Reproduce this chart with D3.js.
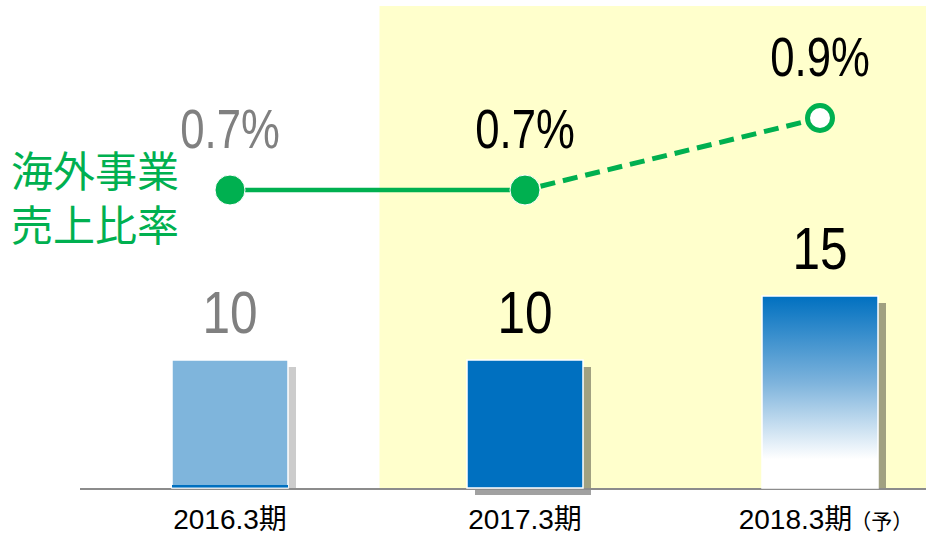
<!DOCTYPE html>
<html>
<head>
<meta charset="utf-8">
<script src="https://cdn.jsdelivr.net/npm/d3@7"></script>
<style>
  body { margin: 0; background: #fff; }
  svg { display: block; }
</style>
</head>
<body>
<svg id="chart" width="926" height="537"></svg>
<script>
// data
const categories = ["2016.3期", "2017.3期", "2018.3期"];
const sales = [10, 10, 15];
const ratio = [0.7, 0.7, 0.9];
const forecast = [false, false, true];
const ratioTitle = ["海外事業", "売上比率"];

const width = 926, height = 537;
const baseY = 488;
const svg = d3.select("#chart");

const x = d3.scalePoint().domain(categories).range([230, 820]);
const yBar = d3.scaleLinear().domain([0, 15]).range([baseY, 296]);
const yRatio = d3.scaleLinear().domain([0.7, 0.9]).range([190, 118]);
const barW = 116;
const green = "#00b050";
const latin = "'Liberation Sans', Arial, sans-serif";

const defs = svg.append("defs");
const grad = defs.append("linearGradient").attr("id", "fcGrad")
  .attr("x1", 0).attr("y1", 0).attr("x2", 0).attr("y2", 1);
grad.append("stop").attr("offset", "0%").attr("stop-color", "#0070c0");
grad.append("stop").attr("offset", "45%").attr("stop-color", "#7db3dc");
grad.append("stop").attr("offset", "85%").attr("stop-color", "#ffffff");
grad.append("stop").attr("offset", "100%").attr("stop-color", "#ffffff");

// yellow band behind the actual + forecast years
const bandX = (x(categories[0]) + x(categories[1])) / 2 + 2;
svg.append("rect")
  .attr("x", bandX).attr("y", 6)
  .attr("width", width - bandX).attr("height", baseY - 6)
  .attr("fill", "#ffffcc");

// bar shadows (only the middle one drops below the axis)
svg.selectAll(".shadow").data(sales).enter().append("rect")
  .attr("class", "shadow")
  .attr("x", (d, i) => x(categories[i]) - barW / 2 + 8)
  .attr("y", d => yBar(d) + 7)
  .attr("width", barW)
  .attr("height", (d, i) => baseY - yBar(d) + (i === 1 ? 0 : -7))
  .attr("fill", "#000").attr("opacity", (d, i) => i === 0 ? 0.2 : 0.37);

// axis line
svg.append("line")
  .attr("x1", 80).attr("x2", width)
  .attr("y1", baseY + 1).attr("y2", baseY + 1)
  .attr("stroke", "#8c8c8c").attr("stroke-width", 2);

// bars
const barFill = ["#7fb5dc", "#0070c0", "url(#fcGrad)"];
svg.selectAll(".bar").data(sales).enter().append("rect")
  .attr("class", "bar")
  .attr("x", (d, i) => x(categories[i]) - barW / 2)
  .attr("y", d => yBar(d))
  .attr("width", barW)
  .attr("height", d => baseY - yBar(d))
  .attr("fill", (d, i) => barFill[i])
  .attr("stroke", "#fff").attr("stroke-width", 1.5);

// thin dark line at the bottom of the first bar
svg.append("rect")
  .attr("x", x(categories[0]) - barW / 2).attr("y", baseY - 3)
  .attr("width", barW).attr("height", 2.5)
  .attr("fill", "#0070c0");

// bar value labels (condensed)
svg.selectAll(".barLabel").data(sales).enter().append("text")
  .attr("class", "barLabel")
  .attr("transform", (d, i) => `translate(${x(categories[i])},${yBar(d) - 27}) scale(0.84,1)`)
  .attr("text-anchor", "middle")
  .attr("font-family", latin).attr("font-size", 59)
  .attr("fill", (d, i) => i === 0 ? "#808080" : "#000")
  .text(d => d);

// ratio line
const pts = ratio.map((d, i) => [x(categories[i]), yRatio(d)]);
const line = d3.line();
svg.append("path").attr("d", line(pts.slice(0, 2)))
  .attr("fill", "none").attr("stroke", green).attr("stroke-width", 4.5);
svg.append("path").attr("d", line(pts.slice(1)))
  .attr("fill", "none").attr("stroke", green).attr("stroke-width", 5)
  .attr("stroke-dasharray", "15,8").attr("stroke-dashoffset", -16);

svg.selectAll(".pt").data(ratio).enter().append("circle")
  .attr("class", "pt")
  .attr("cx", (d, i) => x(categories[i]))
  .attr("cy", d => yRatio(d))
  .attr("r", (d, i) => forecast[i] ? 12.5 : 15)
  .attr("fill", (d, i) => forecast[i] ? "#fff" : green)
  .attr("stroke", (d, i) => forecast[i] ? green : "#fff")
  .attr("stroke-width", (d, i) => forecast[i] ? 5 : 1);

svg.selectAll(".ratioLabel").data(ratio).enter().append("text")
  .attr("class", "ratioLabel")
  .attr("transform", (d, i) => `translate(${x(categories[i])},${yRatio(d) - 42}) scale(0.78,1)`)
  .attr("text-anchor", "middle")
  .attr("font-family", latin).attr("font-size", 56)
  .attr("fill", (d, i) => i === 0 ? "#808080" : "#000")
  .text(d => d3.format(".1f")(d) + "%");

// left title
svg.selectAll(".title").data(ratioTitle).enter().append("text")
  .attr("class", "title")
  .attr("x", 11)
  .attr("y", (d, i) => 187 + i * 54)
  .attr("font-family", "'Noto Sans CJK JP', sans-serif")
  .attr("font-size", 42)
  .attr("fill", green)
  .text(d => d);

// category labels
const cat = svg.selectAll(".cat").data(categories).enter().append("text")
  .attr("class", "cat")
  .attr("x", (d, i) => x(d) + (forecast[i] ? 6 : 0))
  .attr("y", 529)
  .attr("text-anchor", "middle")
  .attr("font-family", "'Liberation Sans', 'Noto Sans CJK JP', sans-serif")
  .attr("font-size", 28)
  .attr("fill", "#000");
cat.append("tspan").text(d => d);
cat.filter((d, i) => forecast[i]).append("tspan")
  .attr("font-family", "'Noto Sans CJK JP', sans-serif")
  .attr("font-size", 21).attr("dx", -2).text("（予）");
</script>
</body>
</html>
